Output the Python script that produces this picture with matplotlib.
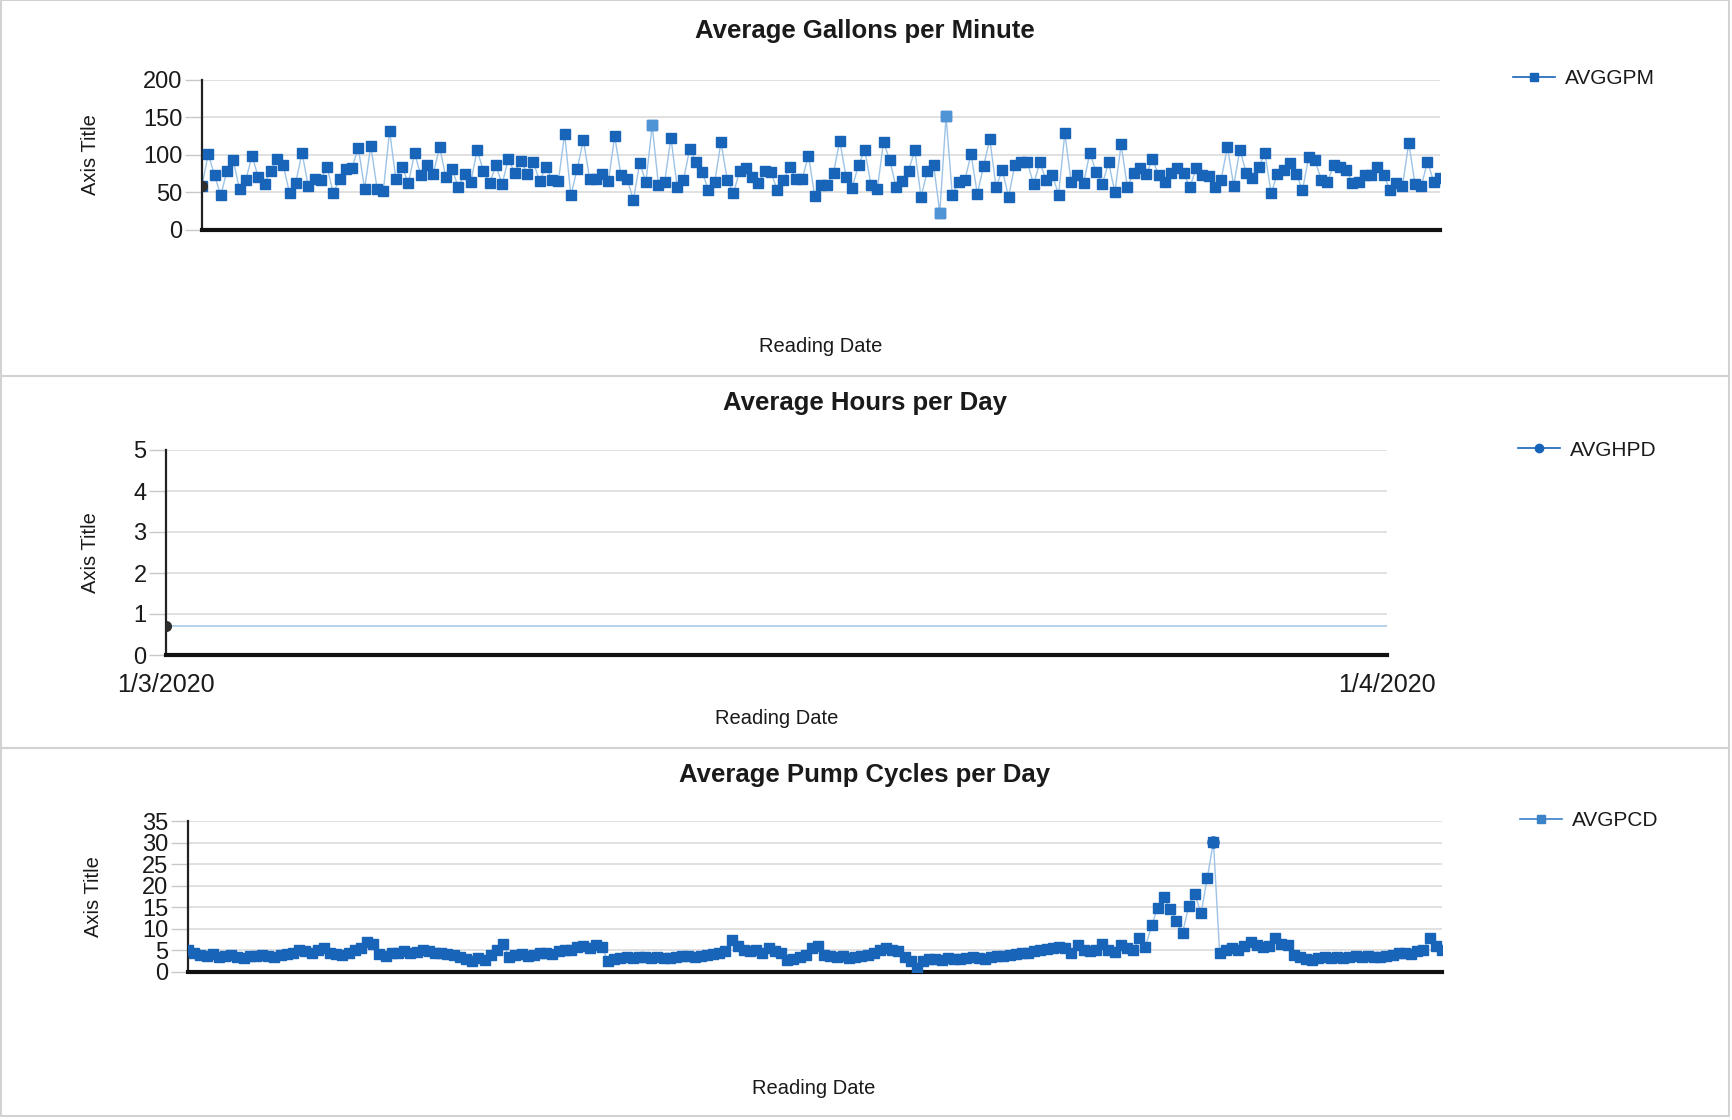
import matplotlib
matplotlib.use('Agg')
from matplotlib import pyplot as plt
from matplotlib.patches import Rectangle

plt.rcParams['font.family'] = ['Liberation Sans', 'DejaVu Sans']

# Average Gallons per Minute (AVGGPM), one value per reading
avggpm = [59, 101, 73, 46, 79, 93, 54, 66, 99, 70,
          61, 79, 95, 86, 49, 63, 103, 58, 68, 67,
          84, 49, 68, 81, 83, 109, 55, 112, 55, 52,
          132, 68, 84, 62, 102, 73, 86, 75, 111, 70,
          81, 57, 75, 64, 106, 79, 62, 86, 61, 95,
          76, 92, 75, 90, 65, 84, 67, 65, 128, 46,
          81, 120, 68, 68, 75, 65, 125, 73, 68, 40,
          89, 64,
          139, 60, 64, 123, 57, 66, 108, 90, 77, 53,
          64, 117, 67, 49, 79, 82, 71, 62, 79,
          77, 53, 66,
          84, 68, 68, 99, 45, 60, 60, 76, 119, 71,
          56, 87, 106, 60, 54, 117, 93, 57, 65, 79,
          106, 44, 78, 87, 23, 151,
          47, 64, 66, 101, 48, 85, 121, 57, 80, 44,
          87, 90, 90, 61, 90, 66, 73, 47, 129, 64,
          73, 62, 103, 77, 61, 90, 50, 114, 57, 76,
          82, 74, 94, 73, 64, 76, 82, 76, 57, 82,
          73, 72, 57, 67, 111, 59, 107, 76,
          69, 84, 102, 49, 75, 80, 89, 75,
          53, 97, 93, 67, 64, 86, 84, 80, 63, 64,
          73, 73, 84, 73, 53, 62, 58, 116, 61, 58,
          91, 64, 69]

# Average Hours per Day (AVGHPD)
hpd_dates = ['1/3/2020', '1/4/2020']
avghpd = [0.7, 0.7]

# Average Pump Cycles per Day (AVGPCD)
avgpcd = [5, 4.5, 4, 3.8, 4.2, 3.5, 3.8, 4, 3.5, 3.3, 3.6, 3.8, 4, 3.6, 3.5, 4, 4.2, 4.5, 5, 4.8,
          4.3, 5.2, 5.5, 4.5, 4.2, 4,
          4.5, 5, 5.5, 7, 6.5, 4.2, 3.8, 4.5, 4.3, 4.8, 4.5, 4.6, 5, 4.8, 4.5,
          4.5, 4.2, 4, 3.5, 3, 2.5, 3.2, 2.8, 4, 5, 6.5, 3.5, 4, 4.2, 3.8,
          4, 4.3, 4.5, 4.2, 4.8, 5, 5.2, 5.8, 6, 5.5, 6.2, 5.8, 2.5, 3, 3.2, 3.5, 3.3, 3.5, 3.4, 3.2,
          3.5, 3.3, 3.2, 3.5, 3.8, 3.6, 3.5, 3.8, 4, 4.2, 4.5, 4.8, 7.5, 6, 5, 4.8, 5.2, 4.5, 5.5, 4.8,
          4.5, 2.7, 3, 3.5, 4, 5.5, 6, 4, 3.8, 3.5, 3.8, 3.2, 3.5, 3.7, 4, 4.5, 5, 5.5, 5, 4.8,
          3.5, 2.5, 1.0, 2.5, 3,
          3, 2.8, 3.2, 3, 3.1, 3.3, 3.5, 3.2, 3, 3.4, 3.8, 3.6, 4, 4.2, 4.5, 4.3, 4.8, 5, 5.3, 5.5,
          5.8, 5.5, 4.5, 6.2, 5, 4.8, 5.2, 6.5, 5, 4.7, 6.2, 5.5, 5, 7.8, 5.8,
          10.9, 14.9, 17.5, 14.6, 11.8, 9.1, 15.2, 18, 13.6, 21.8, 30.2,
          4.5, 5, 5.5, 5.2, 6, 7, 6.2, 5.8, 6, 7.8, 6.5, 6.2,
          4, 3.5, 3, 2.8, 3.2, 3.5, 3.3, 3.5, 3.2, 3.4, 3.6, 3.5, 3.8, 3.5, 3.4,
          3.7, 4, 4.3, 4.5, 4.2, 4.8, 5, 7.9, 6, 5.2]

W, H = 1733, 1120
blue = '#1764b8'
light = '#9cc3e6'
dark = '#2e2e2e'

fig = plt.figure(figsize=(W / 100, H / 100), dpi=100)


def fx(px):
    return px / W


def fy(py):
    return 1 - py / H


def style(ax, ymax, ystep):
    ax.set_ylim(0, ymax)
    ax.set_yticks(range(0, ymax + 1, ystep))
    ax.grid(axis='y', color='#dcdcdc', lw=1.2)
    ax.set_axisbelow(True)
    for s in ['top', 'right']:
        ax.spines[s].set_visible(False)
    ax.spines['left'].set_linewidth(1.6)
    ax.spines['left'].set_color('#222222')
    ax.spines['bottom'].set_linewidth(3)
    ax.spines['bottom'].set_color('#111111')
    ax.tick_params(axis='y', length=12, width=1, color='#c8c8c8', labelsize=17,
                   labelcolor='#1a1a1a', pad=2)


# panel frames
for top, bot in [(0, 376), (376, 748), (748, 1116)]:
    fig.add_artist(Rectangle((fx(1), fy(bot)), fx(1728), (bot - top) / H, transform=fig.transFigure,
                             fill=False, edgecolor='#d2d2d2', lw=1.5))

# ---- chart 1
ax1 = fig.add_axes([fx(202), fy(230), fx(1440 - 202), (230 - 79.6) / H])
x1 = list(range(len(avggpm)))
ax1.plot(x1, avggpm, color=light, lw=1, zorder=2)
ax1.plot(x1, avggpm, ls='none', marker='s', ms=7, color=blue, zorder=3)
ax1.plot([x1[0]], [avggpm[0]], ls='none', marker='o', ms=7, color=dark, zorder=4)
hl = [i for i, v in enumerate(avggpm) if v < 30 or v > 135]
ax1.plot([x1[i] for i in hl], [avggpm[i] for i in hl], ls='none', marker='s', ms=7,
         color='#4f95d6', zorder=4)
ax1.plot([], [], color=blue, lw=1.2, marker='s', ms=6, label='AVGGPM')
ax1.set_xlim(0, len(avggpm) - 1)
ax1.set_xticks([])
style(ax1, 200, 50)

# ---- chart 2
ax2 = fig.add_axes([fx(166), fy(655), fx(1387 - 166), (655 - 450) / H])
x2 = list(range(len(hpd_dates)))
ax2.plot(x2, avghpd, color='#a9cbe8', lw=1.2, marker='o', ms=7, mfc=dark, mec=dark,
         markevery=[0], zorder=3)
ax2.plot([], [], color=blue, lw=1.2, marker='o', ms=6, label='AVGHPD')
ax2.set_xlim(0, 1)
ax2.set_xticks(x2)
ax2.set_xticklabels(hpd_dates)
ax2.tick_params(axis='x', length=0, labelsize=18, pad=13, labelcolor='#1a1a1a')
style(ax2, 5, 1)

# ---- chart 3
ax3 = fig.add_axes([fx(188), fy(972), fx(1442 - 188), (972 - 821) / H])
x3 = list(range(len(avgpcd)))
ax3.plot(x3, avgpcd, color=light, lw=1, zorder=2)
ax3.plot(x3, avgpcd, ls='none', marker='s', ms=6.5, color=blue, zorder=3)
pk = avgpcd.index(max(avgpcd))
ax3.plot([x3[pk]], [avgpcd[pk]], ls='none', marker='o', ms=8, color=blue, zorder=4)
ax3.plot([], [], color='#3b82c8', lw=1.2, marker='s', ms=6, label='AVGPCD')
ax3.set_xlim(0, len(avgpcd) - 1)
ax3.set_xticks([])
style(ax3, 35, 5)

# titles, labels, legends
titles = ['Average Gallons per Minute', 'Average Hours per Day', 'Average Pump Cycles per Day']
title_y = [31, 403, 775]
ylab = [(91, 155), (91, 553), (94, 897)]
xlab = [(821, 347), (777, 718), (814, 1088)]
leg = [(1513, 79), (1518, 450), (1520, 821)]
for ax, t, ty, yl, xl, lg in zip([ax1, ax2, ax3], titles, title_y, ylab, xlab, leg):
    fig.text(fx(865), fy(ty), t, ha='center', va='center', fontsize=18.5, fontweight='bold',
             color='#1a1a1a')
    ax.set_ylabel('Axis Title', fontsize=14.5, color='#1a1a1a', va='center')
    ax.yaxis.set_label_coords(fx(yl[0]), fy(yl[1]), transform=fig.transFigure)
    ax.set_xlabel('Reading Date', fontsize=14.5, color='#1a1a1a', va='center')
    ax.xaxis.set_label_coords(fx(xl[0]), fy(xl[1]), transform=fig.transFigure)
    ax.legend(loc='center left', bbox_to_anchor=(fx(lg[0]), fy(lg[1])),
              bbox_transform=fig.transFigure, frameon=False, borderaxespad=0, borderpad=0,
              fontsize=15, handlelength=2.0, handletextpad=0.5, labelcolor='#1a1a1a')

fig.savefig('out.png', dpi=100, facecolor='white')
